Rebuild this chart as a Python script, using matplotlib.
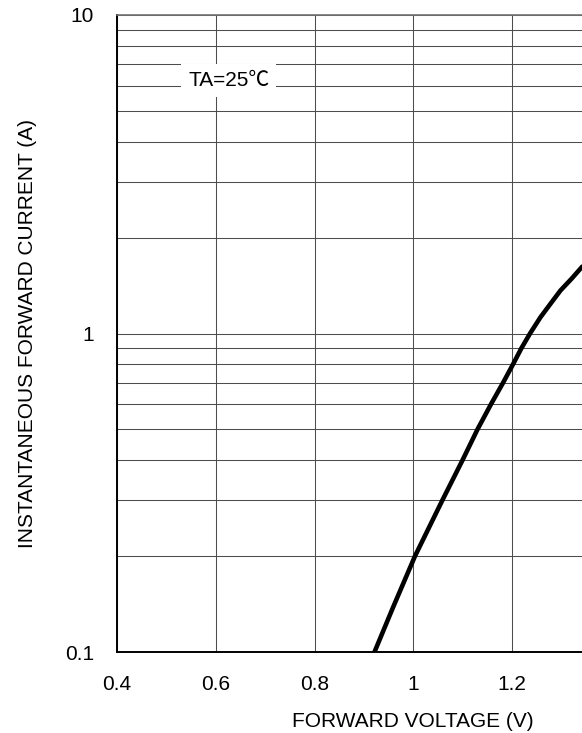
import matplotlib
matplotlib.use('Agg')
import matplotlib.pyplot as plt
from matplotlib.ticker import FixedLocator, LogLocator, NullFormatter

plt.rcParams['font.family'] = ['Liberation Sans', 'DejaVu Sans']

# forward voltage (V) vs instantaneous forward current (A)
voltaje = [0.9215, 0.959, 1.0035, 1.0592, 1.0997, 1.1301, 1.1575, 1.1818,
           1.202, 1.2192, 1.2365, 1.2577, 1.278, 1.2982, 1.3205, 1.3412, 1.362]
corriente = [0.1, 0.138, 0.2, 0.3, 0.4, 0.5, 0.6, 0.7,
             0.8, 0.9, 1.0, 1.125, 1.24, 1.365, 1.485, 1.615, 1.745]

ticks_x = [0.4, 0.6, 0.8, 1.0, 1.2, 1.4, 1.6]
etiquetas_x = ['0.4', '0.6', '0.8', '1', '1.2', '1.4', '1.6']
ticks_y = [0.1, 1, 10]
etiquetas_y = ['0.1', '1', '10']

fig = plt.figure(figsize=(5.82, 7.33), dpi=100)
ax = fig.add_axes([117 / 582, 81 / 733, 592.5 / 582, 637 / 733])

ax.set_yscale('log')
ax.set_xlim(0.4, 1.6)
ax.set_ylim(0.1, 10)

ax.xaxis.set_major_locator(FixedLocator(ticks_x))
ax.set_xticklabels(etiquetas_x)
ax.yaxis.set_major_locator(FixedLocator(ticks_y))
ax.set_yticklabels(etiquetas_y)
ax.yaxis.set_minor_locator(LogLocator(base=10, subs=range(2, 10)))
ax.yaxis.set_minor_formatter(NullFormatter())

ax.grid(True, which='both', color='0.3', linewidth=0.75)
ax.tick_params(which='both', length=0, labelsize=15, colors='black')
ax.tick_params(axis='x', pad=16.5)
ax.tick_params(axis='y', pad=16.5)

for lado in ['left', 'bottom']:
    ax.spines[lado].set_linewidth(1.4)
    ax.spines[lado].set_color('black')
ax.spines['top'].set_color('0.45')
ax.spines['top'].set_linewidth(1.2)

ax.plot(voltaje, corriente, color='black', linewidth=3.3,
        solid_capstyle='butt', solid_joinstyle='round', zorder=3)

ax.text(0.6268, 6.23, 'TA=25℃', fontsize=15, ha='center', va='center',
        family=['Liberation Sans', 'Noto Sans CJK SC'],
        bbox=dict(facecolor='white', edgecolor='none', pad=5), zorder=4)

ax.set_xlabel('FORWARD VOLTAGE (V)', fontsize=15, labelpad=13)
ax.set_ylabel('INSTANTANEOUS FORWARD CURRENT (A)', fontsize=15, labelpad=20)

fig.savefig('out.png', dpi=100)
